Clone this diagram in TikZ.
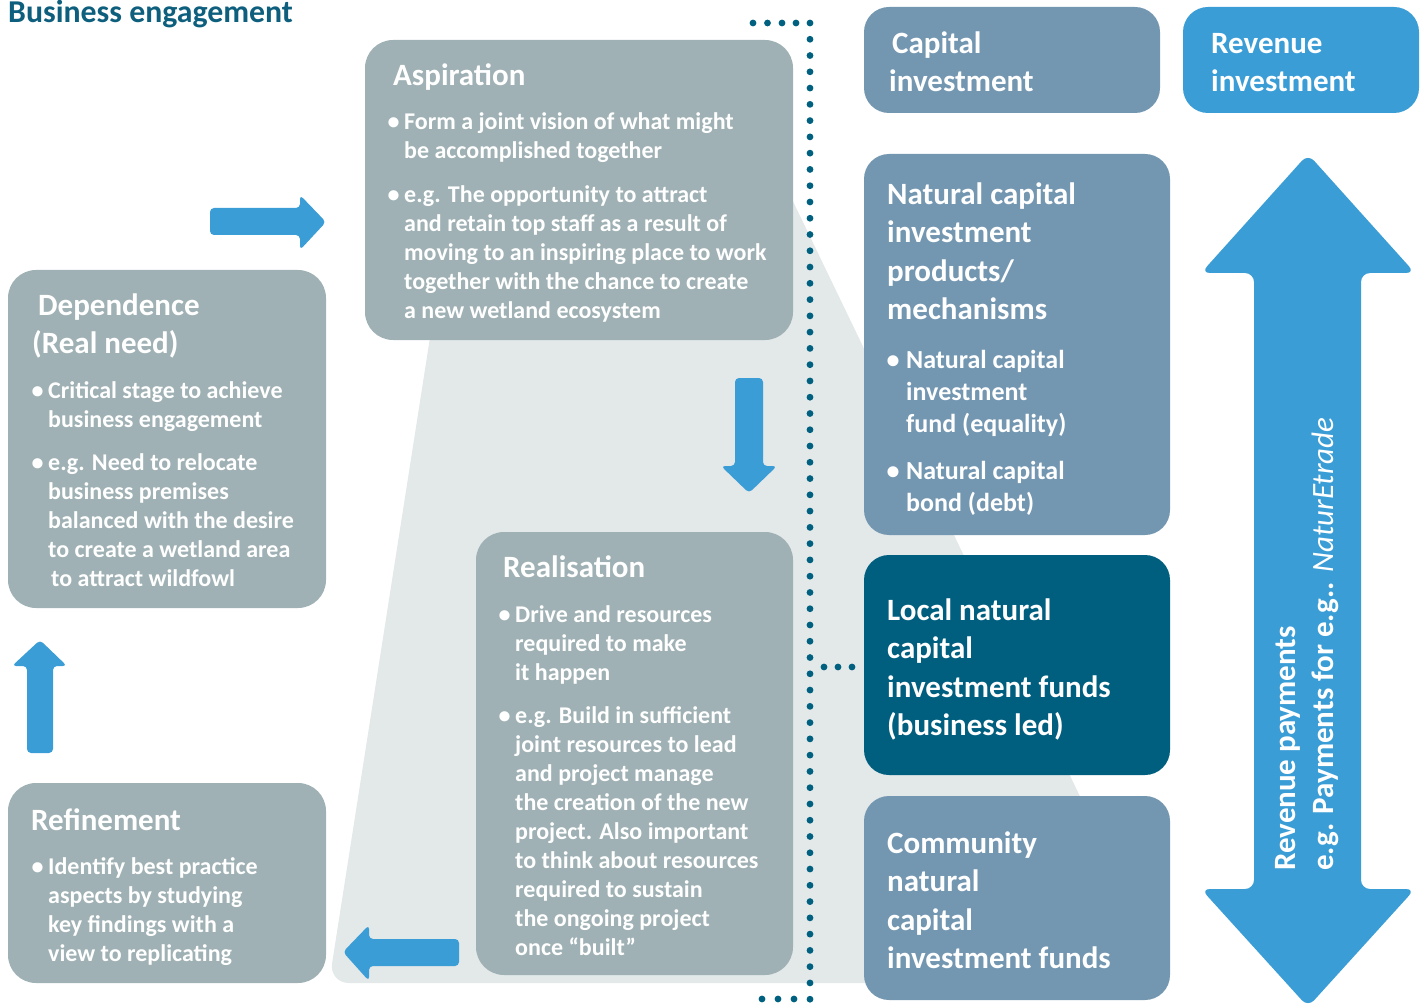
\documentclass[tikz,border=0pt]{standalone}
\usepackage{fontspec}
\setmainfont{Carlito}
\definecolor{boxgray}{HTML}{9FB1B4}
\definecolor{lightbg}{HTML}{E3E8E9}
\definecolor{steel}{HTML}{7396B1}
\definecolor{darkteal}{HTML}{005E7F}
\definecolor{arrblue}{HTML}{3A9DD6}
\definecolor{titlec}{HTML}{0E5F7D}
\definecolor{dotc}{HTML}{00607F}
\newcommand\bl{\makebox[15pt][l]{\hspace*{-1.5pt}•}}
\newcommand\ind{\hspace*{15pt}}
\newcommand\blb{\makebox[18pt][l]{\hspace*{-1.5pt}•}}
\newcommand\indb{\hspace*{18pt}}
\begin{document}
\begin{tikzpicture}[x=1pt,y=-1pt,
  gbox/.style={fill=boxgray, draw=none, rounded corners=28pt, inner sep=0pt},
  rbox/.style={draw=none, rounded corners=25pt, inner sep=0pt},
  ttl/.style={anchor=north west, inner sep=0pt, text=white, align=left, font=\fontsize{31}{38.5}\selectfont\bfseries},
  body/.style={anchor=north west, inner sep=0pt, text=white, align=left, font=\fontsize{24}{29}\selectfont\bfseries},
  bodyb/.style={anchor=north west, inner sep=0pt, text=white, align=left, font=\fontsize{26}{32}\selectfont\bfseries},
  arr/.style={fill=arrblue, draw=none, rounded corners=4pt},
  dot/.style={fill=dotc}]
\useasboundingbox (0,0) rectangle (1427,1008);

% background pyramid
\fill[lightbg, rounded corners=20pt] (475,50) -- (720,50) -- (1170,983) -- (329,983) -- cycle;

% title
\node[anchor=base west, inner sep=0pt, text=titlec, font=\fontsize{31.8}{38}\selectfont\bfseries] (title) at (8,22.5) {Business engagement};

% left stage boxes
\node[gbox, minimum width=428pt, minimum height=300pt] (asp) at (579,190) {};
\node[gbox, minimum width=318pt, minimum height=338pt] (dep) at (167,439) {};
\node[gbox, minimum width=318pt, minimum height=200pt] (ref) at (167,883) {};
\node[gbox, minimum width=317pt, minimum height=443pt] (rea) at (634.5,753.5) {};

% Aspiration text
\node[ttl] (aspt) at (393,58) {\strut Aspiration};
\node[body] (aspb) at (389,108.7) {\strut\bl Form a joint vision of what might\\
\ind be accomplished together\\[15pt]
\bl e.g. The opportunity to attract\\
\ind and retain top staff as a result of\\
\ind moving to an inspiring place to work\\
\ind together with the chance to create\\
\ind a new wetland ecosystem};

% Dependence text
\node[ttl] (dept) at (32,288) {\strut\hspace*{6pt}Dependence\\(Real need)};
\node[body] (depb) at (33,377.7) {\strut\bl Critical stage to achieve\\
\ind business engagement\\[14pt]
\bl e.g. Need to relocate\\
\ind business premises\\
\ind balanced with the desire\\
\ind to create a wetland area\\
\ind\hspace*{3pt}to attract wildfowl};

% Refinement text
\node[ttl] (reft) at (31,803) {\strut Refinement};
\node[body] (refb) at (33,853.7) {\strut\bl Identify best practice\\
\ind aspects by studying\\
\ind key findings with a\\
\ind view to replicating};

% Realisation text
\node[ttl] (reat) at (503,550) {\strut Realisation};
\node[body] (reab) at (500,601.7) {\strut\bl Drive and resources\\
\ind required to make\\
\ind it happen\\[14pt]
\bl e.g. Build in sufficient\\
\ind joint resources to lead\\
\ind and project manage\\
\ind the creation of the new\\
\ind project. Also important\\
\ind to think about resources\\
\ind required to sustain\\
\ind the ongoing project\\
\ind once “built”};

% stage arrows
\fill[arr] (210,208) -- (300,208) -- (300,195) -- (326,222) -- (300,250) -- (300,235) -- (210,235) -- cycle;
\fill[arr] (735,378) -- (763,378) -- (763,466) -- (777,466) -- (749,493) -- (721,466) -- (735,466) -- cycle;
\fill[arr] (459,939) -- (369,939) -- (369,925) -- (343,952) -- (369,981) -- (369,966) -- (459,966) -- cycle;
\fill[arr] (27,753) -- (27,666) -- (12,666) -- (40,640) -- (67,666) -- (53,666) -- (53,753) -- cycle;

% dotted divider
\foreach \i in {0,...,60} \fill[dot] (810,23+\i*16.27) circle (3.4pt);
\foreach \xx in {753,767.5,782,796} \fill[dot] (\xx,23) circle (3.4pt);
\foreach \xx in {762,778,794} \fill[dot] (\xx,999) circle (3.4pt);
\foreach \xx in {824,838,852} \fill[dot] (\xx,667) circle (3.4pt);

% right column boxes
\node[rbox, fill=steel, minimum width=296pt, minimum height=106pt] (cap) at (1012,60) {};
\node[rbox, fill=arrblue, minimum width=236pt, minimum height=106pt] (rev) at (1301,60) {};
\node[rbox, fill=steel, minimum width=306pt, minimum height=381pt] (nat) at (1017,344.5) {};
\node[rbox, fill=darkteal, minimum width=306pt, minimum height=220pt] (loc) at (1017,665) {};
\node[rbox, fill=steel, minimum width=306pt, minimum height=204pt] (com) at (1017,898) {};

\node[ttl] (capt) at (889,26) {\strut\hspace*{3pt}Capital\\investment};
\node[ttl] (revt) at (1211,26) {\strut Revenue\\investment};
\node[ttl] (natt) at (887,177) {\strut Natural capital\\investment\\products/\\mechanisms};
\node[bodyb] (natb) at (888,345.6) {\strut\blb Natural capital\\
\indb investment\\
\indb fund (equality)\\[15pt]
\blb Natural capital\\
\indb bond (debt)};
\node[ttl] (loct) at (887,593) {\strut Local natural\\capital\\investment funds\\(business led)};
\node[ttl] (comt) at (887,826) {\strut Community\\natural\\capital\\investment funds};

% double arrow
\fill[fill=arrblue, rounded corners=9pt] (1308,154) -- (1415,273) -- (1361,273) -- (1361,889) -- (1415,889) -- (1308,1007) -- (1201,889) -- (1254,889) -- (1254,273) -- (1201,273) -- cycle;
\node[rotate=90, anchor=base west, inner sep=0pt, text=white, font=\fontsize{31}{38}\selectfont\bfseries] (rp1) at (1295,871) {Revenue payments};
\node[rotate=90, anchor=base west, inner sep=0pt, text=white, font=\fontsize{31}{38}\selectfont\bfseries] (rp2) at (1333,871) {e.g. Payments for e.g.. {\mdseries\itshape NaturEtrade}};
\end{tikzpicture}
\end{document}
